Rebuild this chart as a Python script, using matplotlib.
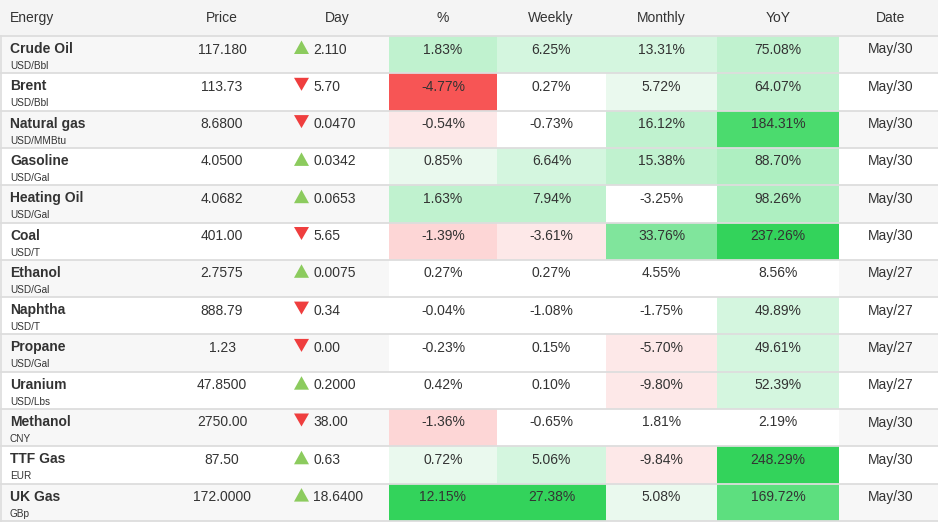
import matplotlib.pyplot as plt
from matplotlib.patches import Rectangle, Polygon

plt.rcParams['font.family'] = ['Liberation Sans', 'DejaVu Sans']

names = ["Crude Oil", "Brent", "Natural gas", "Gasoline", "Heating Oil", "Coal", "Ethanol",
         "Naphtha", "Propane", "Uranium", "Methanol", "TTF Gas", "UK Gas"]
units = ["USD/Bbl", "USD/Bbl", "USD/MMBtu", "USD/Gal", "USD/Gal", "USD/T", "USD/Gal",
         "USD/T", "USD/Gal", "USD/Lbs", "CNY", "EUR", "GBp"]
prices = ["117.180", "113.73", "8.6800", "4.0500", "4.0682", "401.00", "2.7575",
          "888.79", "1.23", "47.8500", "2750.00", "87.50", "172.0000"]
day_change = ["+2.110", "-5.70", "-0.0470", "+0.0342", "+0.0653", "-5.65", "+0.0075",
              "-0.34", "-0.00", "+0.2000", "-38.00", "+0.63", "+18.6400"]
pct = [1.83, -4.77, -0.54, 0.85, 1.63, -1.39, 0.27, -0.04, -0.23, 0.42, -1.36, 0.72, 12.15]
weekly = [6.25, 0.27, -0.73, 6.64, 7.94, -3.61, 0.27, -1.08, 0.15, 0.10, -0.65, 5.06, 27.38]
monthly = [13.31, 5.72, 16.12, 15.38, -3.25, 33.76, 4.55, -1.75, -5.70, -9.80, 1.81, -9.84, 5.08]
yoy = [75.08, 64.07, 184.31, 88.70, 98.26, 237.26, 8.56, 49.89, 49.61, 52.39, 2.19, 248.29, 169.72]
dates = ["May/30", "May/30", "May/30", "May/30", "May/30", "May/30", "May/27",
         "May/27", "May/27", "May/27", "May/30", "May/30", "May/30"]

headers = ["Energy", "Price", "Day", "%", "Weekly", "Monthly", "YoY", "Date"]

# heat colours, picked by |value| / column scale
greens = ["#eaf9ee", "#d4f6df", "#c0f2cf", "#aeefc1", "#80e59c", "#5ddf7f", "#4bdb6e", "#33d35b"]
reds = ["#fde8e8", "#fdd6d6", "#fcc0c0", "#fbadad", "#f98585", "#f86666", "#f75555", "#ff4a4f"]
breaks = [1, 2, 3, 4, 6, 8, 9, 10]


def heat(v, scale):
    r = abs(v) / scale
    level = sum(r >= b for b in breaks)
    if level == 0:
        return "white"
    return (greens if v > 0 else reds)[level - 1]


TEXT = "#333333"
LINE = "#dddddd"
W, H = 938, 523
head_h = 36
row_h = 37.3

fig = plt.figure(figsize=(W / 100, H / 100), dpi=100)
ax = fig.add_axes([0, 0, 1, 1])
ax.set_xlim(0, W)
ax.set_ylim(H, 0)
ax.axis("off")

# header
ax.add_patch(Rectangle((0, 0), W, head_h, color="#f4f4f4", lw=0))
head_x = [10, 222, 337, 443, 551, 661, 778, 891]
for i, h in enumerate(headers):
    ax.text(head_x[i], 18, h, ha="left" if i == 0 else "center", va="center",
            fontsize=10, color=TEXT)

heat_cols = [(pct, 0.5, 389, 497), (weekly, 2.5, 497, 606),
             (monthly, 5, 606, 717), (yoy, 20, 717, 839)]

for i in range(len(names)):
    top = head_h + i * row_h
    if i % 2 == 0:
        ax.add_patch(Rectangle((0, top), W, row_h, color="#f7f7f7", lw=0))
    for vals, scale, x0, x1 in heat_cols:
        ax.add_patch(Rectangle((x0, top), x1 - x0, row_h, color=heat(vals[i], scale), lw=0))
        ax.text((x0 + x1) / 2, top + 13.5, f"{vals[i]:.2f}%", ha="center", va="center",
                fontsize=10, color=TEXT)

    ax.text(10, top + 13, names[i], ha="left", va="center", fontsize=10,
            fontweight="bold", color=TEXT)
    ax.text(10, top + 30, units[i], ha="left", va="center", fontsize=7.2, color=TEXT)
    ax.text(222, top + 13.5, prices[i], ha="center", va="center", fontsize=10, color=TEXT)

    up = day_change[i].startswith("+")
    if up:
        tri = [(294, top + 18), (309, top + 18), (301.5, top + 4.5)]
        col = "#8ccb5e"
    else:
        tri = [(294, top + 4.5), (309, top + 4.5), (301.5, top + 17.5)]
        col = "#ef3e3e"
    ax.add_patch(Polygon(tri, closed=True, color=col, lw=0))
    ax.text(313, top + 13.5, day_change[i][1:], ha="left", va="center", fontsize=10, color=TEXT)

    ax.text(891, top + 13.5, dates[i], ha="center", va="center", fontsize=10, color=TEXT)

# row separators and left edge
for i in range(len(names) + 1):
    y = head_h + i * row_h
    ax.plot([0, W], [y, y], color=LINE, lw=1.3, solid_capstyle="butt")
ax.plot([0.7, 0.7], [head_h, head_h + len(names) * row_h], color=LINE, lw=1.2)

fig.savefig("out.png", dpi=100)
